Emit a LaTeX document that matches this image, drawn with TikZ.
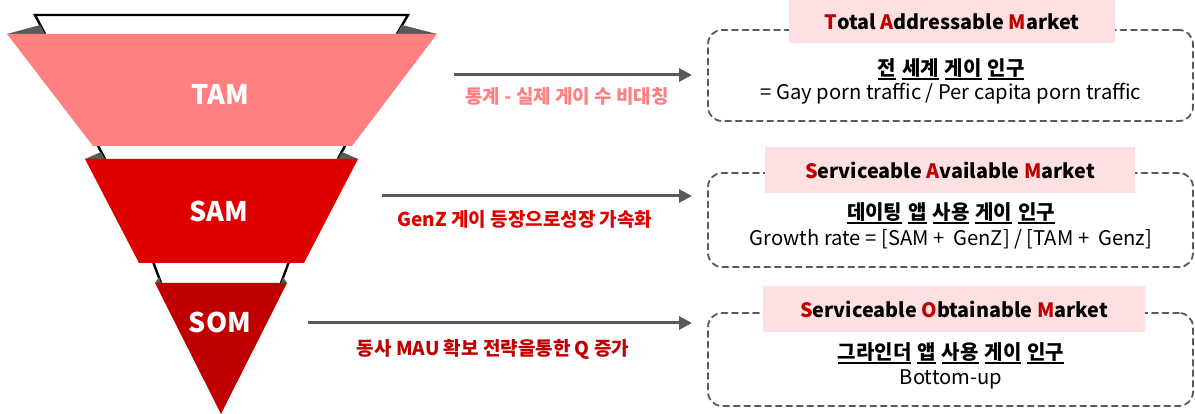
\documentclass[tikz,border=0pt]{standalone}
\usepackage{fontspec}
\setmainfont{Noto Sans CJK KR}
\usetikzlibrary{arrows.meta}
\definecolor{tamc}{HTML}{FF8080}
\definecolor{samc}{HTML}{DF0000}
\definecolor{somc}{HTML}{C00000}
\definecolor{darkg}{HTML}{595959}
\definecolor{bandc}{HTML}{FDE1E2}
\definecolor{initc}{HTML}{C00000}
\newcommand\myul[1]{\setbox0\hbox{#1}\rlap{\rule[-4.5pt]{\wd0}{1.6pt}}\box0}
\newcommand\wsp{\hspace{6pt}}
\newcommand\ini[1]{{\color{initc}#1}}
\begin{document}
\begin{tikzpicture}[x=1pt,y=-1pt,
  backline/.style={draw=black,line width=2.4pt},
  fold/.style={fill=darkg},
  laytext/.style={text=white,font=\fontsize{27}{30}\selectfont\bfseries,inner sep=0pt},
  arr/.style={draw=darkg,line width=3pt,-{Triangle[length=13pt,width=13pt]}},
  arrlabel/.style={font=\fontsize{19}{22}\selectfont\bfseries,inner sep=0pt},
  dbox/.style={draw=darkg,line width=1.8pt,dash pattern=on 6pt off 4.5pt,line cap=round,rounded corners=14pt,minimum width=485pt,inner sep=0pt},
  band/.style={fill=bandc,inner sep=0pt},
  bandtext/.style={font=\fontsize{19.8}{22}\selectfont\bfseries,inner sep=0pt},
  kortext/.style={font=\fontsize{20}{22}\selectfont\bfseries,inner sep=0pt},
  bodytext/.style={font=\fontsize{20.2}{23}\selectfont,inner sep=0pt}]
\useasboundingbox (0,0) rectangle (1195,414);
% funnel backs
\draw[backline,fill=white] (45,34) -- (35,15) -- (408,15) -- (397,34);
\draw[backline] (96,142) -- (105,159);
\draw[backline] (347,142) -- (338,159);
\draw[backline] (152,259) -- (161,283);
\draw[backline] (290,259) -- (281,283);
% folds
\fill[fold] (7,34) -- (45,34) -- (40,25) -- cycle;
\fill[fold] (437,34) -- (397,34) -- (402,25) -- cycle;
\fill[fold] (85,159) -- (105,159) -- (101,152) -- cycle;
\fill[fold] (358,159) -- (338,159) -- (342,152) -- cycle;
\fill[fold] (155,283) -- (161,283) -- (159,277) -- cycle;
\fill[fold] (287,283) -- (281,283) -- (283,277) -- cycle;
% layers
\fill[tamc] (7,34) -- (437,34) -- (352,146) -- (93,146) -- cycle;
\fill[samc] (85,159) -- (358,159) -- (304,263) -- (139,263) -- cycle;
\fill[somc] (155,283) -- (287,283) -- (221,414) -- cycle;
\node[laytext] (tam) at (220,94) {TAM};
\node[laytext] (sam) at (219,211) {SAM};
\node[laytext] (som) at (220,322) {SOM};
% boxes
\node[dbox,minimum height=91pt] (box1) at (950.5,75.5) {};
\node[dbox,minimum height=94pt] (box2) at (950.5,220) {};
\node[dbox,minimum height=93pt] (box3) at (950.5,359.5) {};
\node[band,minimum width=326pt,minimum height=44pt] (band1) at (952,21.5) {};
\node[band,minimum width=370pt,minimum height=46pt] (band2) at (950,170) {};
\node[band,minimum width=382pt,minimum height=46pt] (band3) at (954,309) {};
\node[bandtext] (t1) at (band1) {\ini{T}otal \ini{A}ddressable \ini{M}arket};
\node[bandtext] (t2) at (band2.center) {\ini{S}erviceable \ini{A}vailable \ini{M}arket};
\node[bandtext] (t3) at (band3.center) {\ini{S}erviceable \ini{O}btainable \ini{M}arket};
\node[kortext] (k1) at (951,69) {\myul{전}\wsp\myul{세계}\wsp\myul{게이}\wsp\myul{인구}};
\node[bodytext] (b1) at (951,94) {= Gay porn traffic / Per capita porn traffic};
\node[kortext] (k2) at (951,213) {\myul{데이팅}\wsp\myul{앱}\wsp\myul{사용}\wsp\myul{게이}\wsp\myul{인구}};
\node[bodytext] (b2) at (951,239) {Growth rate = [SAM +~ GenZ] / [TAM +~ Genz]};
\node[kortext] (k3) at (951,353) {\myul{그라인더}\wsp\myul{앱}\wsp\myul{사용}\wsp\myul{게이}\wsp\myul{인구}};
\node[bodytext] (b3) at (951,379) {Bottom-up};
% arrows
\coordinate (a1s) at (454,75);
\coordinate (a1e) at (692,75);
\coordinate (a2s) at (382,196);
\coordinate (a2e) at (692,196);
\coordinate (a3s) at (308,323);
\coordinate (a3e) at (692,323);
\draw[arr] (a1s) -- (a1e);
\draw[arr] (a2s) -- (a2e);
\draw[arr] (a3s) -- (a3e);
\node[arrlabel,text=tamc] (l1) at (567,96) {통계 - 실제 게이 수 비대칭};
\node[arrlabel,text=samc] (l2) at (525,219) {GenZ 게이 등장으로성장 가속화};
\node[arrlabel,text=somc] (l3) at (493,349) {동사 MAU 확보 전략을통한 Q 증가};
\end{tikzpicture}
\end{document}
